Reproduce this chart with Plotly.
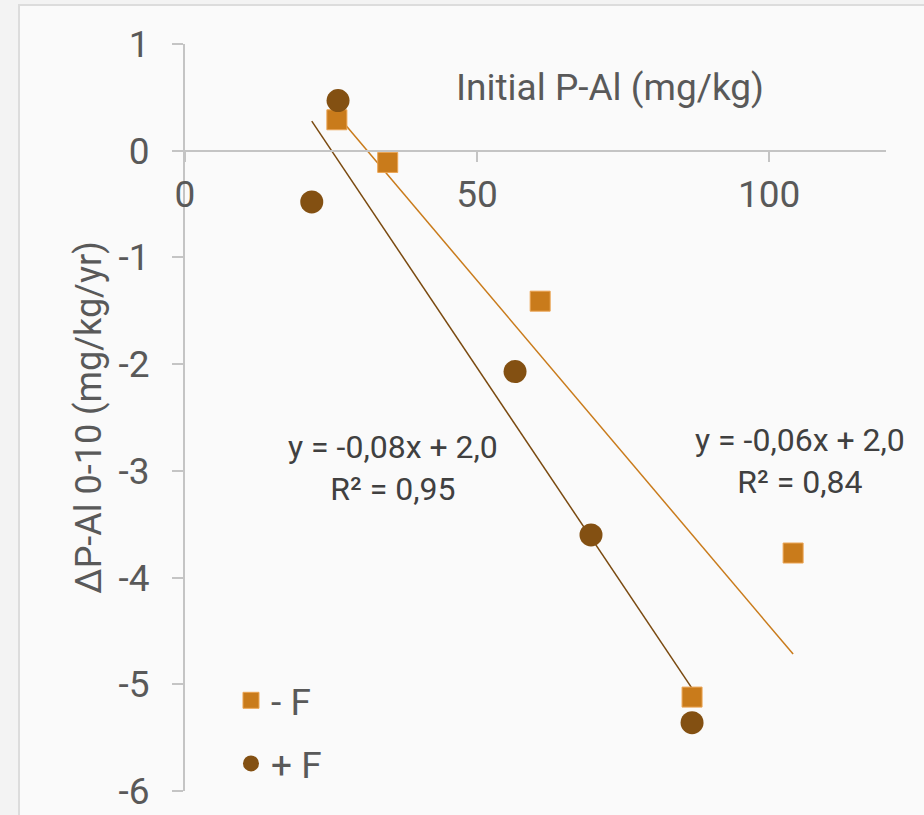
import numpy as np
import plotly.graph_objects as go

# ---- data ----
x_minus_f = [26.0, 34.7, 60.8, 86.8, 104.1]
y_minus_f = [0.29, -0.11, -1.41, -5.12, -3.77]
x_plus_f = [26.2, 21.7, 56.5, 69.5, 86.8]
y_plus_f = [0.47, -0.48, -2.07, -3.60, -5.36]

name_minus = "- F"
name_plus = "+ F"
eq_minus = "y = -0,06x + 2,0<br>R² = 0,84"
eq_plus = "y = -0,08x + 2,0<br>R² = 0,95"
x_title = "Initial P-Al (mg/kg)"
y_title = "ΔP-Al 0-10 (mg/kg/yr)"
x_ticks = [0, 50, 100]
y_ticks = [1, 0, -1, -2, -3, -4, -5, -6]

c_minus = "#C97B1B"
c_minus_edge = "#EBA453"
c_plus = "#835012"
c_plus_line = "#7A4A10"
txt = "#595959"
axis_c = "#C4C4C4"
FONT = "Roboto"


def trend(xs, ys):
    xs = np.asarray(xs, float)
    ys = np.asarray(ys, float)
    k, b = np.polyfit(xs, ys, 1)
    xx = np.array([xs.min(), xs.max()])
    return xx, k * xx + b


fig = go.Figure()

tx, ty = trend(x_minus_f, y_minus_f)
fig.add_trace(go.Scatter(x=tx, y=ty, mode="lines", line=dict(color=c_minus, width=1.5),
                         showlegend=False, hoverinfo="skip"))
tx, ty = trend(x_plus_f, y_plus_f)
fig.add_trace(go.Scatter(x=tx, y=ty, mode="lines", line=dict(color=c_plus_line, width=1.5),
                         showlegend=False, hoverinfo="skip"))

fig.add_trace(go.Scatter(x=x_minus_f, y=y_minus_f, mode="markers", name=name_minus,
                         legendgroup="a",
                         marker=dict(symbol="square", size=20, color=c_minus,
                                     line=dict(color=c_minus_edge, width=1))))
fig.add_trace(go.Scatter(x=x_plus_f, y=y_plus_f, mode="markers", name=name_plus,
                         legendgroup="b",
                         marker=dict(symbol="circle", size=23, color=c_plus,
                                     line=dict(color=c_plus, width=0))))

# equations
fig.add_annotation(x=35.6, y=-2.97, xref="x", yref="y", text=eq_plus, showarrow=False,
                   font=dict(family=FONT, size=32, color="#404040"), align="center")
fig.add_annotation(x=105.3, y=-2.91, xref="x", yref="y", text=eq_minus, showarrow=False,
                   font=dict(family=FONT, size=32, color="#404040"), align="center")
# x-axis title (placed above the axis, as in the reference)
fig.add_annotation(x=72.7, y=0.59, xref="x", yref="y", text=x_title, showarrow=False,
                   font=dict(family=FONT, size=37, color=txt))

# card background
fig.add_shape(type="rect", xref="paper", yref="paper", x0=-0.2368, x1=1.2, y0=-0.2, y1=1.0522,
              fillcolor="#FAFAFA", line=dict(color="#DCDCDC", width=2), layer="below")

fig.update_layout(
    width=924, height=815,
    margin=dict(l=185, r=38, t=44, b=24),
    paper_bgcolor="#F3F3F3",
    plot_bgcolor="rgba(0,0,0,0)",
    font=dict(family=FONT, color=txt),
    showlegend=True,
    legend=dict(x=0.0656, y=0.1623, xanchor="left", yanchor="top",
                bgcolor="rgba(0,0,0,0)", font=dict(size=37, color=txt),
                traceorder="grouped", tracegroupgap=12,
                itemwidth=30),
    xaxis=dict(range=[0, 120], tickvals=x_ticks, ticktext=[str(v) for v in x_ticks],
               showgrid=False, zeroline=False, showline=True, linecolor=axis_c, linewidth=2,
               ticks="outside", ticklen=10, tickcolor=axis_c, tickwidth=2,
               anchor="free", position=6 / 7, ticklabelstandoff=1, automargin=False,
               tickfont=dict(size=37, color=txt, family=FONT)),
    yaxis=dict(range=[-6, 1], tickvals=y_ticks, ticktext=[str(v) for v in y_ticks],
               showgrid=False, zeroline=False, showline=True, linecolor=axis_c, linewidth=2,
               ticks="outside", ticklen=11, tickcolor=axis_c, tickwidth=2,
               ticklabelstandoff=15, automargin=False,
               tickfont=dict(size=37, color=txt, family=FONT),
               title=dict(text=y_title, standoff=6, font=dict(size=36, color=txt, family=FONT))),
)

fig.write_html("out.html", config={"displayModeBar": False},
               post_script="document.body.style.margin='0';document.body.style.background='#F3F3F3';")
